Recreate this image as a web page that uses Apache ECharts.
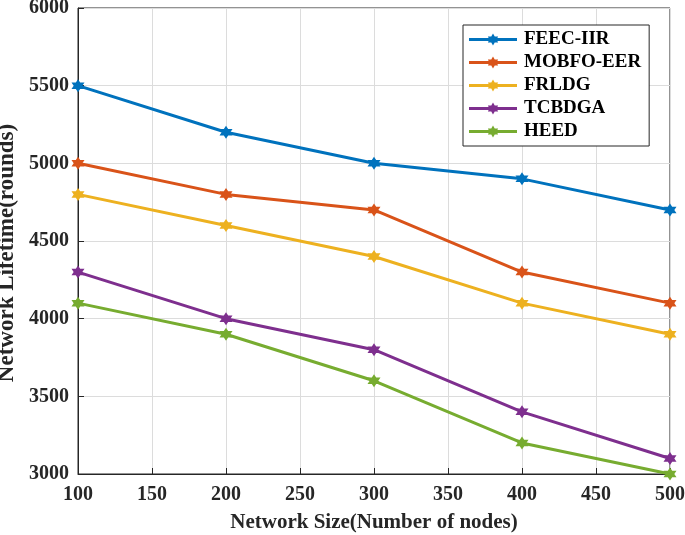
<!DOCTYPE html>
<html><head><meta charset="utf-8">
<script src="https://cdn.jsdelivr.net/npm/echarts@6/dist/echarts.min.js"></script>
<style>html,body{margin:0;padding:0;background:#fff}#c{width:685px;height:535px}</style>
</head><body><div id="c"></div>
<script>
const xValues = [100, 200, 300, 400, 500];
const seriesNames = ['FEEC-IIR', 'MOBFO-EER', 'FRLDG', 'TCBDGA', 'HEED'];
const feecIIR = [5500, 5200, 5000, 4900, 4700];
const mobfoEER = [5000, 4800, 4700, 4300, 4100];
const frldg = [4800, 4600, 4400, 4100, 3900];
const tcbdga = [4300, 4000, 3800, 3400, 3100];
const heed = [4100, 3900, 3600, 3200, 3000];
const colors = ['#0072BD', '#D95319', '#EDB120', '#7E2F8E', '#77AC30'];
const allData = [feecIIR, mobfoEER, frldg, tcbdga, heed];
const hexagram = 'path://M0,-10 L2.89,-5 L8.66,-5 L5.77,0 L8.66,5 L2.89,5 L0,10 L-2.89,5 L-8.66,5 L-5.77,0 L-8.66,-5 L-2.89,-5 Z';
// legend icon: line with hexagram in the middle, drawn in a 48x12 box
const legendIcon = 'path://M0,4.6 L48,4.6 L48,7.4 L0,7.4 Z M24,0 L25.73,3 L29.2,3 L27.46,6 L29.2,9 L25.73,9 L24,12 L22.27,9 L18.8,9 L20.54,6 L18.8,3 L22.27,3 Z';
const font = '"Liberation Serif", "Times New Roman", serif';
const chart = echarts.init(document.getElementById('c'));
chart.setOption({
  animation: false,
  grid: {left: 78, right: 15, top: 8, bottom: 61, containLabel: false, outerBoundsMode: 'none', show: true, borderColor: '#262626', borderWidth: 1},
  legend: {
    orient: 'vertical', left: 463, top: 25, itemWidth: 48, itemHeight: 12, itemGap: 4,
    padding: [5, 8, 5, 6], borderColor: '#262626', borderWidth: 1, backgroundColor: '#fff',
    textStyle: {fontFamily: font, fontWeight: 'bold', fontSize: 19, color: '#000', padding: [0, 0, 0, 2]},
    data: seriesNames.map(n => ({name: n, icon: legendIcon}))
  },
  xAxis: {
    type: 'value', min: 100, max: 500, interval: 50,
    name: 'Network Size(Number of nodes)', nameLocation: 'middle', nameGap: 38,
    nameTextStyle: {fontFamily: font, fontWeight: 'bold', fontSize: 21, color: '#262626'},
    axisLine: {lineStyle: {color: '#262626'}},
    axisTick: {inside: true, length: 6, lineStyle: {color: '#262626'}},
    axisLabel: {fontFamily: font, fontWeight: 'bold', fontSize: 20, color: '#262626', margin: 11, formatter: v => String(v)},
    splitLine: {show: true, lineStyle: {color: '#dcdcdc'}}
  },
  yAxis: {
    type: 'value', min: 3000, max: 6000, interval: 500,
    name: 'Network Lifetime(rounds)', nameLocation: 'middle', nameGap: 58,
    nameTextStyle: {fontFamily: font, fontWeight: 'bold', fontSize: 23, color: '#262626', padding: [0, 24, 0, 0]},
    axisLine: {show: true, lineStyle: {color: '#262626'}},
    axisTick: {show: true, inside: true, length: 6, lineStyle: {color: '#262626'}},
    axisLabel: {fontFamily: font, fontWeight: 'bold', fontSize: 20, color: '#262626', margin: 9, formatter: v => String(v)},
    splitLine: {show: true, lineStyle: {color: '#dcdcdc'}}
  },
  series: seriesNames.map((n, i) => ({
    name: n, type: 'line', data: xValues.map((x, j) => [x, allData[i][j]]),
    symbol: hexagram, symbolSize: 13, showSymbol: true,
    lineStyle: {color: colors[i], width: 3}, itemStyle: {color: colors[i]}
  }))
});
</script></body></html>
